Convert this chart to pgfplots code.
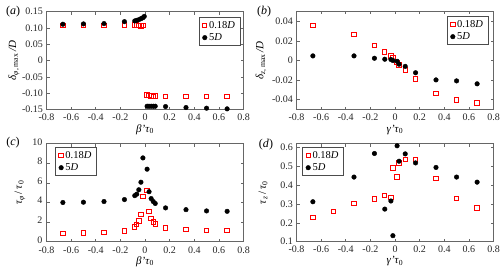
\documentclass[border=0pt]{standalone}
\usepackage{fontspec}
\setmainfont{Liberation Serif}
\usepackage{pgfplots}
\pgfplotsset{compat=1.18}
\pgfplotsset{
  panel/.style={
    scale only axis, width=197pt, height=98pt, anchor=south west,
    xmin=-0.8, xmax=0.8,
    xtick={-0.8,-0.6,-0.4,-0.2,0,0.2,0.4,0.6,0.8},
    xticklabels={-0.8,-0.6,-0.4,-0.2,0,0.2,0.4,0.6,0.8},
    scaled ticks=false,
    tick align=inside, major tick length=3pt,
    axis line style={black!60, line width=0.8pt},
    tick style={black!60, line width=0.6pt},
    ticklabel style={font=\fontsize{10}{12}\selectfont, text=black!85},
    xticklabel style={yshift=-0.5pt},
    label style={font=\fontsize{11}{13}\selectfont},
    legend cell align=left,
    legend style={draw=black!70, line width=1pt, font=\fontsize{10.5}{12}\selectfont,
      inner xsep=3pt, inner ysep=2pt, row sep=-0.5pt},
    clip=false,
  },
  redsq/.style={only marks, mark=square, mark size=2.2pt,
    mark options={draw=red, fill=white, line width=1pt}},
  blkdot/.style={only marks, mark=*, mark size=2.3pt,
    mark options={draw=black, fill=black, line width=0.4pt}},
}
\begin{document}
\begin{tikzpicture}
\useasboundingbox (0pt,0pt) rectangle (500pt,271pt);

% (a)
\begin{axis}[panel, at={(46.5pt,161.5pt)},
  ymin=-0.15, ymax=0.15,
  ytick={-0.15,-0.1,-0.05,0,0.05,0.1,0.15},
  yticklabels={-0.15,-0.10,-0.05,0,0.05,0.10,0.15},
  xlabel={\textit{β'τ}\textsubscript{0}},
  ylabel={\textit{δ}\textsubscript{\textit{φ}, max}\,\textit{/D}},
  xlabel style={at={(axis description cs:0.5,-0.205)}, anchor=center},
  ylabel style={at={(axis description cs:-0.165,0.5)}, anchor=center},
  legend style={at={(0.985,0.944)}, anchor=north east},
]
\addplot[redsq] coordinates {
(-0.667,0.108) (-0.5,0.108) (-0.333,0.108) (-0.167,0.109) (-0.083,0.109)
(-0.067,0.109) (-0.05,0.108) (-0.033,0.106) (-0.017,0.107)
(0.017,-0.106) (0.033,-0.107) (0.05,-0.109) (0.067,-0.110) (0.083,-0.109)
(0.167,-0.110) (0.333,-0.110) (0.5,-0.111) (0.667,-0.111)};
\addlegendentry{0.18\textit{D}}
\addplot[blkdot] coordinates {
(-0.667,0.111) (-0.5,0.112) (-0.333,0.113) (-0.167,0.119) (-0.083,0.121)
(-0.067,0.123) (-0.05,0.125) (-0.033,0.128) (-0.017,0.131) (-0.006,0.135)
(0.017,-0.140) (0.033,-0.140) (0.05,-0.140) (0.067,-0.140) (0.083,-0.140)
(0.167,-0.141) (0.333,-0.144) (0.5,-0.146) (0.667,-0.148)};
\addlegendentry{5\textit{D}}
\end{axis}

% (b)
\begin{axis}[panel, at={(296.5pt,161.5pt)},
  ymin=-0.05, ymax=0.05,
  ytick={-0.04,-0.02,0,0.02,0.04},
  yticklabels={-0.04,-0.02,0,0.02,0.04},
  xlabel={\textit{γ'τ}\textsubscript{0}},
  ylabel={\textit{δ}\textsubscript{\textit{z}, max}\,\textit{/D}},
  xlabel style={at={(axis description cs:0.5,-0.205)}, anchor=center},
  ylabel style={at={(axis description cs:-0.18,0.5)}, anchor=center},
  legend style={at={(0.975,0.954)}, anchor=north east},
]
\addplot[redsq] coordinates {
(-0.667,0.0355) (-0.333,0.0265) (-0.167,0.015) (-0.083,0.0085) (-0.033,0.0045)
(-0.017,0.0025) (0.017,-0.002) (0.033,-0.0045) (0.083,-0.0095) (0.167,-0.019)
(0.333,-0.0335) (0.5,-0.0405) (0.667,-0.0435)};
\addlegendentry{0.18\textit{D}}
\addplot[blkdot] coordinates {
(-0.667,0.0047) (-0.333,0.0047) (-0.167,0.0023) (-0.083,0.0013) (-0.033,0.001)
(-0.017,0.0) (0.017,-0.0008) (0.033,-0.0038) (0.083,-0.006) (0.167,-0.0125)
(0.333,-0.0198) (0.5,-0.0208) (0.667,-0.0238)};
\addlegendentry{5\textit{D}}
\end{axis}

% (c)
\begin{axis}[panel, at={(46.5pt,29.3pt)},
  ymin=0, ymax=10,
  ytick={0,2,4,6,8,10},
  yticklabels={0,2,4,6,8,10},
  yticklabel style={yshift=1.8pt, xshift=-0.5pt},
  xticklabel style={yshift=-1pt},
  xlabel={\textit{β'τ}\textsubscript{0}},
  ylabel={\textit{τ}\textsubscript{\textit{φ}}\,/\,\textit{τ}\textsubscript{0}},
  xlabel style={at={(axis description cs:0.5,-0.2)}, anchor=center},
  ylabel style={at={(axis description cs:-0.135,0.5)}, anchor=center},
  legend style={at={(0.045,0.966)}, anchor=north west},
]
\addplot[redsq] coordinates {
(-0.667,0.84) (-0.5,0.87) (-0.333,0.95) (-0.167,1.08) (-0.083,1.5)
(-0.067,1.75) (-0.05,2.1) (-0.033,2.75) (-0.017,4.6) (0.017,5.2)
(0.033,3.1) (0.05,2.35) (0.067,2.0) (0.083,1.8) (0.167,1.4)
(0.333,1.25) (0.5,1.17) (0.667,1.14)};
\addlegendentry{0.18\textit{D}}
\addplot[blkdot] coordinates {
(-0.667,4.0) (-0.5,4.03) (-0.333,4.1) (-0.167,4.3) (-0.083,4.7)
(-0.067,4.85) (-0.05,5.3) (-0.033,6.07) (-0.017,8.55) (0.017,7.4)
(0.033,5.1) (0.05,4.4) (0.067,4.1) (0.083,3.9) (0.167,3.45)
(0.333,3.27) (0.5,3.14) (0.667,3.1)};
\addlegendentry{5\textit{D}}
\end{axis}

% (d)
\begin{axis}[panel, at={(296.5pt,29.3pt)},
  ymin=0.1, ymax=0.62,
  ytick={0.1,0.2,0.3,0.4,0.5,0.6},
  yticklabels={0.1,0.2,0.3,0.4,0.5,0.6},
  xlabel={\textit{γ'τ}\textsubscript{0}},
  ylabel={\textit{τ}\textsubscript{\textit{z}}\,/\,\textit{τ}\textsubscript{0}},
  xlabel style={at={(axis description cs:0.5,-0.2)}, anchor=center},
  ylabel style={at={(axis description cs:-0.17,0.5)}, anchor=center},
  legend style={at={(0.03,0.966)}, anchor=north west},
]
\addplot[redsq] coordinates {
(-0.667,0.227) (-0.5,0.259) (-0.333,0.303) (-0.167,0.327) (-0.083,0.345)
(-0.033,0.334) (-0.017,0.491) (0.017,0.443) (0.033,0.518) (0.083,0.535)
(0.167,0.536) (0.333,0.436) (0.5,0.330) (0.667,0.279)};
\addlegendentry{0.18\textit{D}}
\addplot[blkdot] coordinates {
(-0.667,0.312) (-0.333,0.443) (-0.167,0.568) (-0.083,0.273) (-0.033,0.316)
(-0.017,0.132) (0.017,0.609) (0.033,0.527) (0.083,0.566) (0.167,0.518)
(0.333,0.494) (0.5,0.443) (0.667,0.416)};
\addlegendentry{5\textit{D}}
\end{axis}

\node[font=\fontsize{12}{14}\selectfont] at (13pt,259pt) {(\textit{a})};
\node[font=\fontsize{12}{14}\selectfont] at (264pt,259pt) {(\textit{b})};
\node[font=\fontsize{12}{14}\selectfont] at (13pt,128pt) {(\textit{c})};
\node[font=\fontsize{12}{14}\selectfont] at (266pt,126pt) {(\textit{d})};
\end{tikzpicture}
\end{document}
